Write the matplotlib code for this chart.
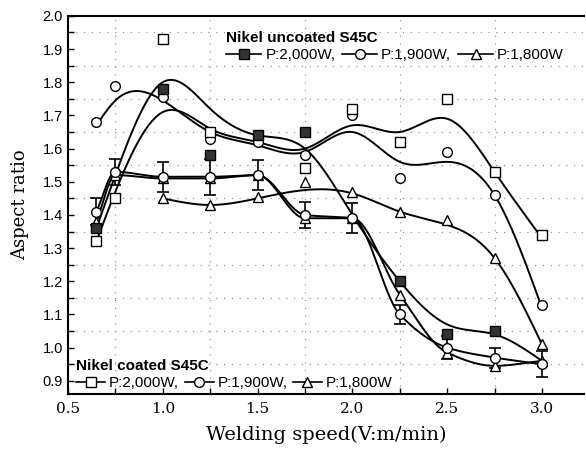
import numpy as np
import matplotlib
matplotlib.use('Agg')
import matplotlib.pyplot as plt
from matplotlib.lines import Line2D

# welding speeds (m/min)
speed = [0.65, 0.75, 1.0, 1.25, 1.5, 1.75, 2.0, 2.25, 2.5, 2.75, 3.0]

# scattered measurement markers (upper group)
fsq_x = [0.65, 1.0, 1.25, 1.5, 1.75, 2.25, 2.5, 2.75]
fsq_y = [1.36, 1.78, 1.58, 1.64, 1.65, 1.20, 1.04, 1.05]
osq_x = [0.65, 0.75, 1.0, 1.25, 1.75, 2.0, 2.25, 2.5, 2.75, 3.0]
osq_y = [1.32, 1.45, 1.93, 1.65, 1.54, 1.72, 1.62, 1.75, 1.53, 1.34]
ocir_x = [0.65, 0.75, 1.0, 1.25, 1.5, 1.75, 2.0, 2.25, 2.5, 2.75, 3.0]
ocir_y = [1.68, 1.79, 1.755, 1.63, 1.62, 1.58, 1.70, 1.51, 1.59, 1.46, 1.13]
otri_x = [1.0, 1.25, 1.5, 1.75, 2.0, 2.25, 2.5, 2.75, 3.0]
otri_y = [1.45, 1.43, 1.455, 1.50, 1.47, 1.41, 1.385, 1.27, 1.01]

# fitted curves
curve_a = [1.36, 1.52, 1.80, 1.72, 1.64, 1.60, 1.40, 1.20, 1.07, 1.04, 0.96]
curve_b = [1.67, 1.745, 1.745, 1.65, 1.61, 1.59, 1.65, 1.56, 1.56, 1.46, 1.12]
curve_c = [1.32, 1.47, 1.71, 1.66, 1.62, 1.60, 1.67, 1.65, 1.69, 1.53, 1.33]
tri_curve_x = [1.0, 1.25, 1.5, 1.75, 2.0, 2.25, 2.5, 2.75, 3.0]
tri_curve = [1.45, 1.43, 1.45, 1.475, 1.465, 1.41, 1.37, 1.27, 1.01]

# coated, with error bars
coat_cir = [1.41, 1.53, 1.515, 1.515, 1.52, 1.40, 1.39, 1.10, 1.00, 0.97, 0.95]
coat_err = [0.04, 0.04, 0.045, 0.055, 0.045, 0.04, 0.045, 0.03, 0.035, 0.03, 0.04]
coat_tri = [1.38, 1.52, 1.51, 1.51, 1.52, 1.39, 1.39, 1.16, 0.985, 0.945, 0.96]


def spline(xk, yk, num=300):
    # natural cubic spline
    xk = np.asarray(xk, float)
    yk = np.asarray(yk, float)
    n = len(xk)
    h = np.diff(xk)
    A = np.zeros((n, n))
    r = np.zeros(n)
    A[0, 0] = A[-1, -1] = 1
    for i in range(1, n - 1):
        A[i, i - 1] = h[i - 1]
        A[i, i] = 2 * (h[i - 1] + h[i])
        A[i, i + 1] = h[i]
        r[i] = 6 * ((yk[i + 1] - yk[i]) / h[i] - (yk[i] - yk[i - 1]) / h[i - 1])
    M = np.linalg.solve(A, r)
    xs = np.linspace(xk[0], xk[-1], num)
    idx = np.clip(np.searchsorted(xk, xs) - 1, 0, n - 2)
    x0, x1 = xk[idx], xk[idx + 1]
    hh = x1 - x0
    t0, t1 = x1 - xs, xs - x0
    ys = (M[idx] * t0**3 + M[idx + 1] * t1**3) / (6 * hh) \
        + (yk[idx] / hh - M[idx] * hh / 6) * t0 \
        + (yk[idx + 1] / hh - M[idx + 1] * hh / 6) * t1
    return xs, ys


def pchip(xk, yk, num=300):
    xk = np.asarray(xk, float)
    yk = np.asarray(yk, float)
    h = np.diff(xk)
    d = np.diff(yk) / h
    m = np.zeros(len(xk))
    m[0], m[-1] = d[0], d[-1]
    for i in range(1, len(xk) - 1):
        if d[i - 1] * d[i] > 0:
            w1 = 2 * h[i] + h[i - 1]
            w2 = h[i] + 2 * h[i - 1]
            m[i] = (w1 + w2) / (w1 / d[i - 1] + w2 / d[i])
    xs = np.linspace(xk[0], xk[-1], num)
    idx = np.clip(np.searchsorted(xk, xs) - 1, 0, len(xk) - 2)
    hh = h[idx]
    t = (xs - xk[idx]) / hh
    ys = (2*t**3 - 3*t**2 + 1) * yk[idx] + (t**3 - 2*t**2 + t) * hh * m[idx] \
        + (-2*t**3 + 3*t**2) * yk[idx + 1] + (t**3 - t**2) * hh * m[idx + 1]
    return xs, ys


serif = ['DejaVu Serif']
sans = ['Liberation Sans', 'DejaVu Sans']

fig = plt.figure(figsize=(5.86, 4.54), dpi=100)
ax = fig.add_axes([0.116, 0.132, 0.88, 0.833])

lw = 1.4
for xs, ys in [spline(speed, curve_a), spline(speed, curve_b),
               spline(speed, curve_c), spline(tri_curve_x, tri_curve),
               pchip(speed, coat_cir), pchip(speed, coat_tri)]:
    ax.plot(xs, ys, color='black', lw=lw, zorder=2)

ms = 7
ax.errorbar(speed, coat_cir, yerr=coat_err, fmt='none', ecolor='black',
            elinewidth=1.2, capsize=4, capthick=1.2, zorder=3)
ax.plot(speed, coat_tri, '^', ms=ms, mfc='white', mec='black', mew=1, zorder=4)
ax.plot(speed, coat_cir, 'o', ms=ms, mfc='white', mec='black', mew=1, zorder=4)
ax.plot(otri_x, otri_y, '^', ms=ms, mfc='white', mec='black', mew=1, ls='none', zorder=4)
ax.plot(ocir_x, ocir_y, 'o', ms=ms, mfc='white', mec='black', mew=1, ls='none', zorder=4)
ax.plot(osq_x, osq_y, 's', ms=ms, mfc='white', mec='black', mew=1, ls='none', zorder=4)
ax.plot(fsq_x, fsq_y, 's', ms=ms, mfc='#333333', mec='black', mew=1, ls='none', zorder=5)

ax.set_xlim(0.5, 3.22)
ax.set_ylim(0.86, 2.0)
ax.set_xticks([0.5, 1.0, 1.5, 2.0, 2.5, 3.0])
ax.set_yticks([0.9, 1.0, 1.1, 1.2, 1.3, 1.4, 1.5, 1.6, 1.7, 1.8, 1.9, 2.0])
ax.set_xticks(np.arange(0.75, 3.2, 0.5), minor=True)
ax.set_yticks(np.arange(0.95, 2.0, 0.1), minor=True)
ax.tick_params(which='both', direction='in', length=4, width=1)
ax.tick_params(axis='x', labelsize=11, pad=6)
ax.tick_params(axis='y', labelsize=10.5)
for lab in ax.get_xticklabels():
    lab.set_family(serif)
for lab in ax.get_yticklabels():
    lab.set_family(sans)
ax.grid(which='minor', linestyle=(0, (1, 6)), color='#888888', lw=0.8)
ax.spines['right'].set_visible(False)
for s in ['left', 'bottom', 'top']:
    ax.spines[s].set_linewidth(1.5)

ax.set_xlabel('Welding speed(V:m/min)', family=serif, fontsize=14, labelpad=7)
ax.set_ylabel('Aspect ratio', family=serif, fontsize=13, labelpad=10)

labels = ['P:2,000W,', 'P:1,900W,', 'P:1,800W']
kw = dict(color='black', lw=1.2, ms=7, mec='black')
h_unc = [Line2D([], [], marker='s', mfc='#333333', **kw),
         Line2D([], [], marker='o', mfc='white', **kw),
         Line2D([], [], marker='^', mfc='white', **kw)]
h_coat = [Line2D([], [], marker='s', mfc='white', **kw),
          Line2D([], [], marker='o', mfc='white', **kw),
          Line2D([], [], marker='^', mfc='white', **kw)]

legkw = dict(ncol=3, frameon=False, handletextpad=0.25,
             alignment='left', borderpad=0.2, labelspacing=0.2,
             prop={'family': sans, 'size': 11},
             title_fontproperties={'family': sans, 'size': 11, 'weight': 'bold'})
leg1 = ax.legend(h_unc, labels, title='Nikel uncoated S45C',
                 loc='upper left', bbox_to_anchor=(0.368, 0.955),
                 bbox_transform=fig.transFigure,
                 handlelength=2.3, columnspacing=0.45, **legkw)
leg1._legend_box.sep = 2
ax.add_artist(leg1)
leg2 = ax.legend(h_coat, labels, title='Nikel coated S45C',
                 loc='upper left', bbox_to_anchor=(0.112, 0.232),
                 bbox_transform=fig.transFigure,
                 handlelength=1.9, columnspacing=0.35, **legkw)
leg2._legend_box.sep = 2

fig.savefig('out.png', dpi=100)
